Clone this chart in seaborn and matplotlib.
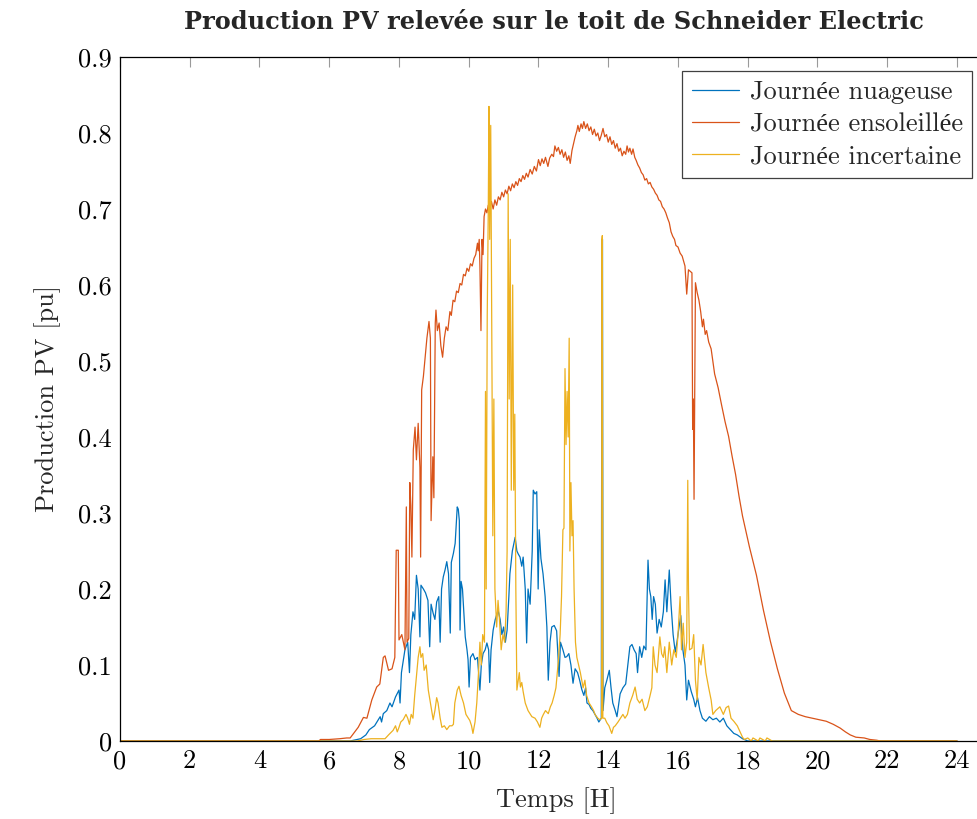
import matplotlib
matplotlib.use("Agg")
import matplotlib.pyplot as plt
import seaborn as sns
import pandas as pd

# --- data (time in hours, production in pu) ---
t_nuageuse = [0, 6.6, 6.9, 7.05, 7.15, 7.3, 7.46, 7.5, 7.55, 7.65, 7.74, 7.8, 7.9, 8.0, 8.03, 8.07,
              8.17, 8.25, 8.3, 8.34, 8.4, 8.45, 8.5, 8.55, 8.6, 8.63, 8.7, 8.76, 8.83, 8.88, 8.92,
              8.98, 9.03, 9.08, 9.14, 9.18, 9.22, 9.27, 9.32, 9.37, 9.42, 9.47, 9.5, 9.56, 9.61,
              9.67, 9.7, 9.73, 9.75, 9.78, 9.82, 9.87, 9.9, 9.95, 9.98, 10.01, 10.05, 10.12, 10.18,
              10.25, 10.32, 10.36, 10.41, 10.47, 10.52, 10.57, 10.6, 10.64, 10.7, 10.76, 10.84,
              10.9, 10.95, 11.0, 11.05, 11.1, 11.15, 11.18, 11.25, 11.33, 11.38, 11.42, 11.47,
              11.52, 11.56, 11.62, 11.66, 11.7, 11.76, 11.82, 11.85, 11.9, 11.95, 11.99, 12.02,
              12.07, 12.13, 12.19, 12.24, 12.28, 12.33, 12.38, 12.45, 12.52, 12.59, 12.63, 12.7,
              12.76, 12.81, 12.87, 12.93, 12.99, 13.05, 13.12, 13.18, 13.24, 13.3, 13.35, 13.39,
              13.45, 13.5, 13.56, 13.62, 13.68, 13.73, 13.8, 13.82, 13.835, 13.85, 13.9, 13.96,
              14.03, 14.08, 14.13, 14.2, 14.25, 14.34, 14.42, 14.5, 14.56, 14.62, 14.68, 14.74,
              14.8, 14.84, 14.9, 14.96, 15.02, 15.08, 15.1, 15.14, 15.18, 15.22, 15.26, 15.3,
              15.35, 15.4, 15.46, 15.52, 15.58, 15.63, 15.68, 15.75, 15.8, 15.86, 15.92, 15.97,
              16.03, 16.08, 16.14, 16.2, 16.25, 16.3, 16.38, 16.45, 16.5, 16.56, 16.63, 16.7,
              16.8, 16.9, 17.0, 17.1, 17.2, 17.3, 17.4, 17.5, 17.6, 17.7, 17.85, 18.0, 24]
p_nuageuse = [0, 0, 0.003, 0.008, 0.015, 0.02, 0.032, 0.025, 0.036, 0.04, 0.05, 0.045, 0.058, 0.067,
              0.05, 0.09, 0.12, 0.13, 0.09, 0.14, 0.17, 0.16, 0.218, 0.2, 0.137, 0.205, 0.2, 0.195,
              0.185, 0.124, 0.18, 0.168, 0.16, 0.183, 0.19, 0.13, 0.2, 0.216, 0.225, 0.236, 0.22,
              0.142, 0.235, 0.247, 0.26, 0.308, 0.305, 0.29, 0.146, 0.21, 0.2, 0.16, 0.137, 0.12,
              0.107, 0.071, 0.11, 0.115, 0.107, 0.11, 0.067, 0.1, 0.115, 0.12, 0.129, 0.12, 0.077,
              0.12, 0.146, 0.16, 0.172, 0.16, 0.14, 0.15, 0.13, 0.146, 0.19, 0.22, 0.25, 0.268,
              0.25, 0.246, 0.242, 0.23, 0.242, 0.2, 0.129, 0.2, 0.18, 0.25, 0.33, 0.325, 0.328,
              0.2, 0.278, 0.24, 0.22, 0.19, 0.15, 0.08, 0.13, 0.15, 0.152, 0.145, 0.085, 0.13,
              0.12, 0.11, 0.111, 0.115, 0.1, 0.076, 0.095, 0.09, 0.08, 0.068, 0.06, 0.07, 0.05,
              0.048, 0.043, 0.04, 0.035, 0.03, 0.025, 0.03, 0.66, 0.66, 0.04, 0.07, 0.08, 0.093,
              0.07, 0.05, 0.04, 0.032, 0.062, 0.07, 0.075, 0.1, 0.124, 0.127, 0.12, 0.115, 0.09,
              0.124, 0.11, 0.125, 0.12, 0.16, 0.238, 0.2, 0.19, 0.16, 0.19, 0.18, 0.142, 0.16,
              0.15, 0.17, 0.212, 0.17, 0.225, 0.18, 0.14, 0.117, 0.13, 0.15, 0.165, 0.12, 0.1,
              0.054, 0.08, 0.065, 0.055, 0.045, 0.057, 0.04, 0.03, 0.026, 0.032, 0.028, 0.03,
              0.025, 0.03, 0.02, 0.015, 0.01, 0.008, 0.003, 0, 0]

t_ensoleillee = [0, 5.7, 5.75, 6.0, 6.3, 6.5, 6.6, 6.7, 6.83, 6.98, 7.08, 7.22, 7.36, 7.45, 7.55, 7.6,
                 7.7, 7.8, 7.88, 7.92, 7.98, 8.0, 8.08, 8.17, 8.21, 8.23, 8.28, 8.31, 8.34, 8.37,
                 8.41, 8.46, 8.5, 8.55, 8.6, 8.62, 8.65, 8.7, 8.75, 8.8, 8.86, 8.9, 8.92, 8.97, 9.0,
                 9.04, 9.06, 9.1, 9.15, 9.2, 9.25, 9.3, 9.35, 9.4, 9.46, 9.5, 9.55, 9.6, 9.65, 9.7,
                 9.75, 9.8, 9.85, 9.9, 9.95, 10.0, 10.05, 10.1, 10.15, 10.2, 10.25, 10.27, 10.3,
                 10.32, 10.35, 10.38, 10.41, 10.44, 10.48, 10.52, 10.56, 10.6, 10.65, 10.7, 10.75,
                 10.8, 10.85, 10.9, 10.95, 11.0, 11.05, 11.1, 11.15, 11.2, 11.25, 11.3, 11.35, 11.4,
                 11.45, 11.5, 11.55, 11.6, 11.65, 11.7, 11.76, 11.82, 11.88, 11.94, 12.0, 12.05,
                 12.1, 12.15, 12.2, 12.27, 12.32, 12.38, 12.43, 12.47, 12.52, 12.57, 12.62, 12.67,
                 12.72, 12.77, 12.82, 12.87, 12.91, 12.96, 13.0, 13.05, 13.1, 13.13, 13.17, 13.22,
                 13.26, 13.3, 13.35, 13.4, 13.45, 13.5, 13.55, 13.6, 13.65, 13.7, 13.75, 13.8,
                 13.85, 13.9, 13.95, 14.0, 14.05, 14.1, 14.15, 14.2, 14.25, 14.3, 14.35, 14.4,
                 14.45, 14.5, 14.54, 14.58, 14.62, 14.67, 14.71, 14.76, 14.8, 14.85, 14.9, 14.95,
                 15.0, 15.05, 15.1, 15.15, 15.2, 15.25, 15.3, 15.35, 15.4, 15.45, 15.5, 15.55, 15.6,
                 15.65, 15.7, 15.75, 15.8, 15.85, 15.9, 15.94, 16.0, 16.06, 16.12, 16.2, 16.25,
                 16.3, 16.4, 16.42, 16.44, 16.46, 16.5, 16.55, 16.6, 16.65, 16.7, 16.73, 16.78,
                 16.82, 16.88, 16.95, 17.0, 17.05, 17.15, 17.25, 17.35, 17.45, 17.55, 17.65, 17.75,
                 17.85, 18.05, 18.25, 18.45, 18.65, 18.85, 19.05, 19.25, 19.45, 19.65, 19.85,
                 20.05, 20.25, 20.45, 20.65, 20.8, 20.94, 21.1, 21.34, 21.5, 21.7, 21.8, 24]
p_ensoleillee = [0, 0, 0.002, 0.002, 0.003, 0.004, 0.004, 0.01, 0.018, 0.031, 0.03, 0.054, 0.071,
                 0.075, 0.11, 0.112, 0.093, 0.095, 0.11, 0.251, 0.251, 0.133, 0.14, 0.12, 0.308,
                 0.13, 0.135, 0.34, 0.31, 0.242, 0.383, 0.413, 0.37, 0.418, 0.36, 0.242, 0.462,
                 0.48, 0.505, 0.53, 0.552, 0.53, 0.29, 0.374, 0.32, 0.55, 0.567, 0.54, 0.55, 0.52,
                 0.505, 0.53, 0.545, 0.54, 0.565, 0.56, 0.58, 0.578, 0.592, 0.59, 0.602, 0.6,
                 0.614, 0.612, 0.622, 0.618, 0.628, 0.625, 0.635, 0.64, 0.655, 0.645, 0.66, 0.626,
                 0.54, 0.66, 0.64, 0.69, 0.70, 0.695, 0.705, 0.70, 0.71, 0.70, 0.712, 0.705, 0.716,
                 0.712, 0.722, 0.716, 0.725, 0.72, 0.73, 0.724, 0.733, 0.728, 0.736, 0.731, 0.74,
                 0.736, 0.744, 0.739, 0.747, 0.742, 0.752, 0.746, 0.756, 0.75, 0.765, 0.757, 0.766,
                 0.76, 0.768, 0.756, 0.767, 0.772, 0.769, 0.783, 0.776, 0.781, 0.772, 0.778, 0.768,
                 0.775, 0.764, 0.77, 0.76, 0.777, 0.785, 0.795, 0.803, 0.81, 0.802, 0.812, 0.806,
                 0.815, 0.806, 0.812, 0.803, 0.808, 0.798, 0.805, 0.796, 0.8, 0.79, 0.797, 0.806,
                 0.795, 0.798, 0.788, 0.795, 0.785, 0.79, 0.78, 0.786, 0.776, 0.78, 0.77, 0.776,
                 0.772, 0.783, 0.775, 0.78, 0.772, 0.779, 0.768, 0.764, 0.758, 0.754, 0.748, 0.745,
                 0.738, 0.74, 0.733, 0.735, 0.729, 0.726, 0.721, 0.718, 0.712, 0.71, 0.703, 0.7,
                 0.695, 0.688, 0.682, 0.67, 0.664, 0.66, 0.652, 0.65, 0.642, 0.638, 0.625, 0.588,
                 0.62, 0.616, 0.41, 0.45, 0.318, 0.603, 0.59, 0.58, 0.565, 0.545, 0.555, 0.535,
                 0.54, 0.525, 0.516, 0.5, 0.483, 0.465, 0.442, 0.42, 0.401, 0.375, 0.351, 0.322,
                 0.296, 0.255, 0.218, 0.172, 0.131, 0.095, 0.063, 0.04, 0.035, 0.032, 0.03, 0.028,
                 0.026, 0.022, 0.017, 0.012, 0.008, 0.005, 0.004, 0.002, 0.001, 0, 0]

t_incertaine = [0, 6.8, 7.0, 7.2, 7.6, 7.7, 7.83, 7.9, 7.95, 8.0, 8.05, 8.12, 8.2, 8.25, 8.3, 8.35,
                8.4, 8.45, 8.5, 8.55, 8.6, 8.63, 8.68, 8.72, 8.78, 8.84, 8.9, 8.98, 9.03, 9.08,
                9.12, 9.18, 9.23, 9.3, 9.37, 9.45, 9.52, 9.56, 9.6, 9.67, 9.72, 9.78, 9.85, 9.92,
                10.03, 10.08, 10.12, 10.18, 10.23, 10.28, 10.32, 10.36, 10.4, 10.45, 10.48, 10.5,
                10.53, 10.56, 10.58, 10.6, 10.63, 10.66, 10.69, 10.72, 10.75, 10.8, 10.84, 10.88,
                10.93, 10.98, 11.03, 11.07, 11.1, 11.13, 11.16, 11.19, 11.22, 11.26, 11.29, 11.32,
                11.35, 11.38, 11.42, 11.45, 11.48, 11.52, 11.56, 11.62, 11.7, 11.81, 11.9, 11.97,
                12.04, 12.09, 12.14, 12.2, 12.28, 12.34, 12.39, 12.45, 12.5, 12.57, 12.62, 12.66,
                12.7, 12.73, 12.76, 12.79, 12.82, 12.85, 12.88, 12.9, 12.93, 12.96, 12.99, 13.02,
                13.06, 13.1, 13.15, 13.2, 13.28, 13.33, 13.38, 13.45, 13.52, 13.58, 13.62, 13.7,
                13.76, 13.81, 13.82, 13.83, 13.845, 13.9, 13.96, 14.02, 14.1, 14.15, 14.2, 14.28,
                14.35, 14.42, 14.48, 14.55, 14.62, 14.7, 14.77, 14.83, 14.9, 14.97, 15.05, 15.12,
                15.2, 15.25, 15.29, 15.34, 15.4, 15.48, 15.53, 15.58, 15.62, 15.68, 15.75, 15.82,
                15.88, 15.95, 16.0, 16.06, 16.1, 16.15, 16.2, 16.25, 16.28, 16.3, 16.33, 16.4,
                16.45, 16.5, 16.55, 16.6, 16.66, 16.72, 16.8, 16.88, 16.95, 17.0, 17.08, 17.2,
                17.3, 17.38, 17.45, 17.52, 17.6, 17.7, 17.78, 17.85, 17.9, 18.0, 18.1, 18.15, 18.3,
                18.35, 18.5, 18.55, 18.7, 24]
p_incertaine = [0, 0, 0.002, 0.003, 0.003, 0.008, 0.014, 0.02, 0.012, 0.018, 0.025, 0.028, 0.035,
                0.03, 0.022, 0.035, 0.03, 0.06, 0.085, 0.11, 0.124, 0.11, 0.115, 0.093, 0.1, 0.067,
                0.05, 0.028, 0.04, 0.057, 0.05, 0.03, 0.018, 0.02, 0.015, 0.02, 0.02, 0.022, 0.05,
                0.067, 0.072, 0.06, 0.05, 0.035, 0.027, 0.02, 0.01, 0.025, 0.05, 0.09, 0.13, 0.1,
                0.14, 0.13, 0.46, 0.2, 0.56, 0.7, 0.835, 0.66, 0.81, 0.54, 0.27, 0.45, 0.2, 0.15,
                0.185, 0.16, 0.12, 0.14, 0.13, 0.17, 0.25, 0.72, 0.45, 0.66, 0.33, 0.6, 0.33, 0.43,
                0.2, 0.067, 0.08, 0.09, 0.071, 0.077, 0.065, 0.05, 0.04, 0.032, 0.03, 0.025, 0.018,
                0.03, 0.035, 0.04, 0.036, 0.045, 0.05, 0.06, 0.07, 0.106, 0.14, 0.19, 0.278, 0.28,
                0.49, 0.39, 0.46, 0.4, 0.53, 0.25, 0.34, 0.27, 0.29, 0.2, 0.13, 0.11, 0.1, 0.09,
                0.07, 0.08, 0.06, 0.05, 0.045, 0.04, 0.035, 0.03, 0.028, 0.03, 0.66, 0.665, 0.03,
                0.03, 0.024, 0.02, 0.01, 0.018, 0.02, 0.025, 0.03, 0.035, 0.03, 0.035, 0.05, 0.06,
                0.071, 0.055, 0.05, 0.055, 0.04, 0.045, 0.06, 0.07, 0.124, 0.1, 0.09, 0.137, 0.115,
                0.11, 0.124, 0.09, 0.13, 0.1, 0.12, 0.11, 0.14, 0.19, 0.12, 0.155, 0.11, 0.13,
                0.343, 0.2, 0.12, 0.122, 0.14, 0.08, 0.054, 0.11, 0.1, 0.127, 0.09, 0.07, 0.054,
                0.035, 0.04, 0.045, 0.035, 0.044, 0.046, 0.03, 0.026, 0.02, 0.012, 0.005, 0.002,
                0.004, 0, 0.004, 0, 0.004, 0, 0.004, 0, 0]

series_names = ["Journée nuageuse", "Journée ensoleillée", "Journée incertaine"]
series_colors = ["#0072BD", "#D95319", "#EDB120"]
x_ticks = list(range(0, 25, 2))
y_ticks = [0, 0.1, 0.2, 0.3, 0.4, 0.5, 0.6, 0.7, 0.8, 0.9]
y_tick_labels = ["0", "0.1", "0.2", "0.3", "0.4", "0.5", "0.6", "0.7", "0.8", "0.9"]

sns.set_style("white")
# cmr10 has no accented glyphs; Liberation Serif fills in the "é"
plt.rcParams["font.family"] = ["cmr10", "Liberation Serif"]
plt.rcParams["axes.formatter.use_mathtext"] = True

frames = []
for name, t, p in [(series_names[0], t_nuageuse, p_nuageuse),
                   (series_names[1], t_ensoleillee, p_ensoleillee),
                   (series_names[2], t_incertaine, p_incertaine)]:
    frames.append(pd.DataFrame({"temps": t, "pv": p, "journee": name}))
df = pd.concat(frames, ignore_index=True)

fig = plt.figure(figsize=(9.78, 8.19), dpi=100)
ax = fig.add_axes([120 / 978, 78 / 819, 25 * 34.875 / 978, 684 / 819])

for name, color in zip(series_names, series_colors):
    sub = df[df["journee"] == name]
    sns.lineplot(data=sub, x="temps", y="pv", color=color, linewidth=0.9,
                 estimator=None, sort=False, label=name, ax=ax)

ax.set_xlim(0, 25)
ax.set_ylim(0, 0.9)
ax.set_xticks(x_ticks)
ax.set_xticklabels([str(v) for v in x_ticks])
ax.set_yticks(y_ticks)
ax.set_yticklabels(y_tick_labels)
ax.tick_params(direction="in", length=7.5, width=0.8, color="#9a9a9a",
               labelsize=19, top=True, right=True, pad=6, labelcolor="black")
for side in ["left", "bottom", "top", "right"]:
    ax.spines[side].set_color("black")
    ax.spines[side].set_linewidth(0.9)

ax.set_xlabel("Temps [H]", fontsize=19, labelpad=10)
ax.set_ylabel("Production PV [pu]", fontsize=19, labelpad=12)
fig.text(0.566, 1 - 22 / 819, "Production PV relevée sur le toit de Schneider Electric",
         ha="center", va="center", fontsize=17.3,
         family="DejaVu Serif", fontweight="bold")

leg = ax.legend(loc="upper right", bbox_to_anchor=(972 / 978, 1 - 71 / 819),
                bbox_transform=fig.transFigure, fontsize=19, frameon=True,
                fancybox=False, framealpha=1, edgecolor="#404040", borderaxespad=0,
                handlelength=1.8, handletextpad=0.4, labelspacing=0.32, borderpad=0.35)
leg.get_frame().set_linewidth(0.9)

fig.savefig("out.png", dpi=100)
